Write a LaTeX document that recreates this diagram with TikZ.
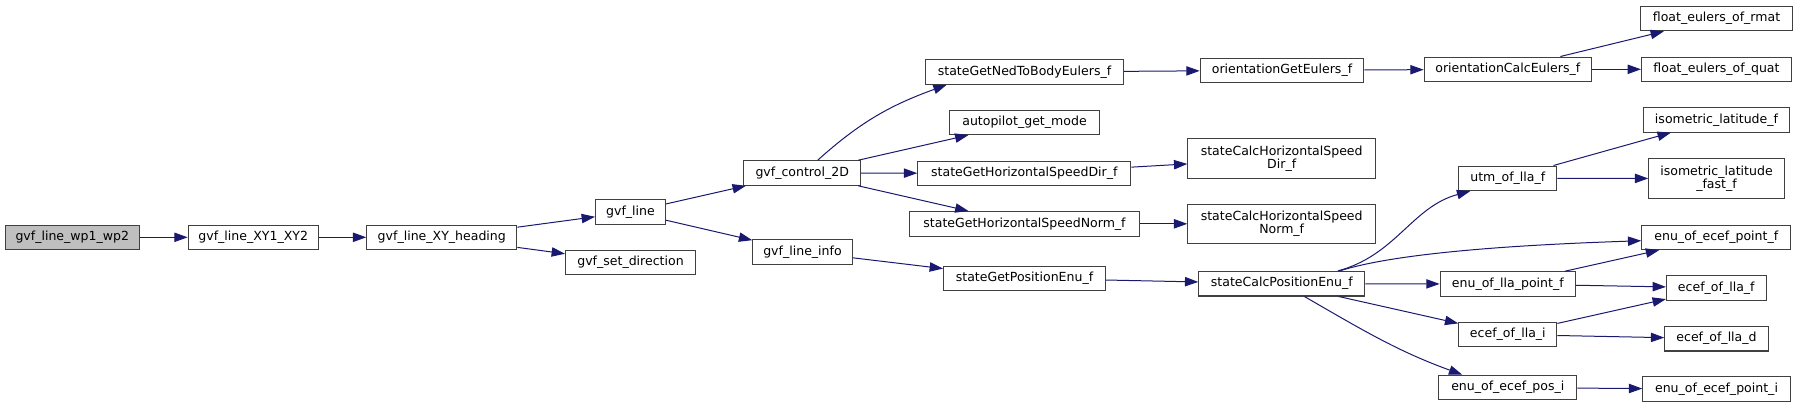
\documentclass[tikz,border=0pt]{standalone}
\usepackage{fontspec}
\setmainfont{DejaVu Sans}
\usetikzlibrary{arrows.meta, calc}
\definecolor{edgeblue}{HTML}{191970}
\definecolor{boxgrey}{HTML}{404040}
\definecolor{rootgrey}{HTML}{BFBFBF}

\begin{document}
\begin{tikzpicture}[x=0.75pt, y=-0.75pt,
  fn/.style={draw=boxgrey, line width=0.8pt, fill=white, minimum width=#1, minimum height=18.4pt,
             inner sep=1pt, align=center, font=\fontsize{9.4}{10}\selectfont},
  fntwo/.style={fn=#1, minimum height=29.6pt},
  call/.style={-{Triangle[length=10pt, width=7pt]}, draw=edgeblue, line width=0.75pt}]

  \useasboundingbox (0,0) rectangle (1799,408);

  \node[fn=100.8pt, fill=rootgrey] (wp)  at (72.3,237.3)   {gvf\_line\_wp1\_wp2};
  \node[fn=97.5pt]   (xy12)   at (253.2,237.3)  {gvf\_line\_XY1\_XY2};
  \node[fn=112.5pt]  (head)   at (441.8,237.3)  {gvf\_line\_XY\_heading};
  \node[fn=52.5pt]   (line)   at (630.5,212)    {gvf\_line};
  \node[fn=97.5pt]   (setdir) at (630.5,262.5)  {gvf\_set\_direction};
  \node[fn=87.6pt]   (c2d)    at (802.2,173)    {gvf\_control\_2D};
  \node[fn=74.6pt]   (info)   at (802.5,251.8)  {gvf\_line\_info};
  \node[fn=148.5pt]  (ned)    at (1024.5,72)    {stateGetNedToBodyEulers\_f};
  \node[fn=112.5pt]  (apm)    at (1024.5,122.3) {autopilot\_get\_mode};
  \node[fn=159.8pt]  (hdir)   at (1024.3,173.3) {stateGetHorizontalSpeedDir\_f};
  \node[fn=172.5pt]  (hnorm)  at (1024.5,223.8) {stateGetHorizontalSpeedNorm\_f};
  \node[fn=121.5pt]  (pos)    at (1024.5,278.3) {stateGetPositionEnu\_f};
  \node[fn=122.7pt]  (oge)    at (1282,70.3)    {orientationGetEulers\_f};
  \node[fntwo=140.8pt] (chdir)  at (1281.7,158.5) {stateCalcHorizontalSpeed\\Dir\_f};
  \node[fntwo=140.8pt] (chnorm) at (1281.7,223.8) {stateCalcHorizontalSpeed\\Norm\_f};
  \node[fn=124.5pt]  (cpos)   at (1281.8,283.7) {stateCalcPositionEnu\_f};
  \node[fn=125.5pt]  (oce)    at (1507.8,69.3)  {orientationCalcEulers\_f};
  \node[fn=73.5pt]   (utm)    at (1507.8,178.3) {utm\_of\_lla\_f};
  \node[fn=101.5pt]  (elpf)   at (1507.8,284)   {enu\_of\_lla\_point\_f};
  \node[fn=73.5pt]   (elli)   at (1507.8,334.5) {ecef\_of\_lla\_i};
  \node[fn=103.5pt]  (eepi)   at (1507.8,387.5) {enu\_of\_ecef\_pos\_i};
  \node[fn=114.5pt]  (rmat)   at (1716.5,18.5)  {float\_eulers\_of\_rmat};
  \node[fn=112.5pt]  (quat)   at (1716.5,69.3)  {float\_eulers\_of\_quat};
  \node[fn=109.5pt]  (isof)   at (1716.5,119.8) {isometric\_latitude\_f};
  \node[fntwo=101.6pt] (isofast) at (1716.5,178.5) {isometric\_latitude\\\_fast\_f};
  \node[fn=111.8pt]  (eepf)   at (1716.3,237.3) {enu\_of\_ecef\_point\_f};
  \node[fn=74.8pt]   (ellf)   at (1716.3,287.8) {ecef\_of\_lla\_f};
  \node[fn=77.6pt]   (elld)   at (1716.5,338.7) {ecef\_of\_lla\_d};
  \node[fn=110.6pt]  (eepti)  at (1716.5,389.2) {enu\_of\_ecef\_point\_i};

  \draw[call] (wp)   -- (xy12);
  \draw[call] (xy12) -- (head);
  \draw[call] (head) -- (line);
  \draw[call] (head) -- (setdir);
  \draw[call] (line) -- (c2d);
  \draw[call] (line) -- (info);
  \draw[call] ($(c2d.north)+(15.5,0)$) to[out=42, in=200] ($(ned.south west)+(21.7,0)$);
  \draw[call] (c2d)  -- (apm);
  \draw[call] (c2d)  -- (hdir);
  \draw[call] (c2d)  -- (hnorm);
  \draw[call] (info) -- (pos);
  \draw[call] (ned)  -- (oge);
  \draw[call] (hdir) -- (chdir);
  \draw[call] (hnorm) -- (chnorm);
  \draw[call] (pos)  -- (cpos);
  \draw[call] (oge)  -- (oce);
  \draw[call] (oce)  -- (rmat);
  \draw[call] (oce)  -- (quat);
  \draw[call] ($(cpos.north)+(56,0)$) to[out=15, in=195] ($(utm.south west)+(12,0)$);
  \draw[call] ($(cpos.north)+(58,0)$) to[out=18, in=182, looseness=0.6] ($(eepf.west)+(0,3.4)$);
  \draw[call] (cpos) -- (elpf);
  \draw[call] (cpos) -- (elli);
  \draw[call] ($(cpos.south)+(22.6,0)$) to[out=-30, in=160] ($(eepi.north west)+(24,0)$);
  \draw[call] (utm)  -- (isof);
  \draw[call] (utm)  -- (isofast);
  \draw[call] (elpf) -- (eepf);
  \draw[call] (elpf) -- (ellf);
  \draw[call] (elli) -- (ellf);
  \draw[call] (elli) -- (elld);
  \draw[call] (eepi) -- (eepti);
\end{tikzpicture}
\end{document}
